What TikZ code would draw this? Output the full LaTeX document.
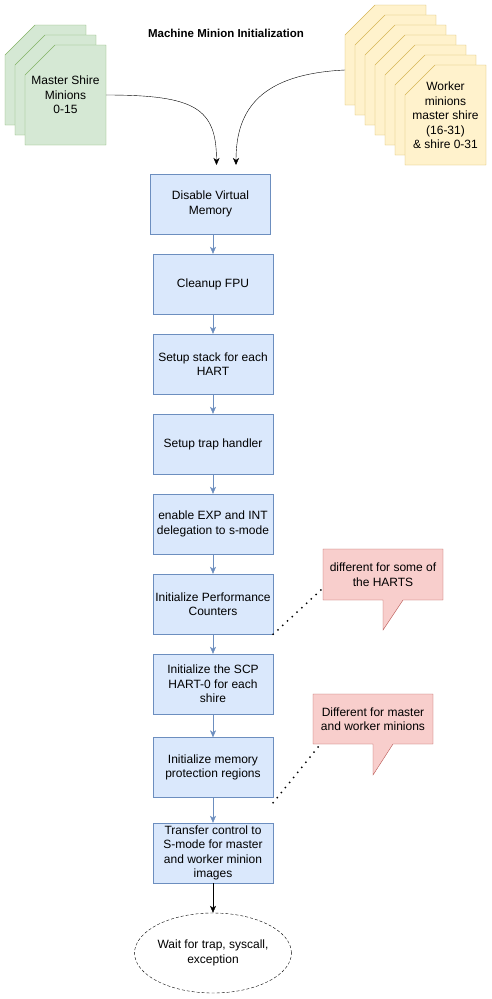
\documentclass[tikz,border=0pt]{standalone}
\usepackage{fontspec}
\setmainfont{Liberation Sans}
\usetikzlibrary{arrows.meta,calc,shapes.geometric}
\definecolor{bfill}{HTML}{DAE8FC}
\definecolor{bdraw}{HTML}{6C8EBF}
\definecolor{gfill}{HTML}{D5E8D4}
\definecolor{gdraw}{HTML}{82B366}
\definecolor{yfill}{HTML}{FFF2CC}
\definecolor{ydraw}{HTML}{D6B656}
\definecolor{rfill}{HTML}{F8CECC}
\definecolor{rdraw}{HTML}{B85450}
\newcommand\drawcard[3]{%
  \path[#3] ({#1+30},{#2}) -- ({#1+81},{#2}) -- ({#1+81},{#2+100}) -- ({#1},{#2+100}) -- ({#1},{#2+30}) -- cycle;}
\begin{document}
\begin{tikzpicture}[x=1pt,y=-1pt,
  txt/.style={font=\fontsize{12}{14.5}\selectfont, align=center, inner sep=0pt},
  stepbox/.style={txt, draw=bdraw, fill=bfill, minimum width=120pt, minimum height=60pt},
  cardtext/.style={txt, minimum width=81pt, minimum height=100pt},
  gcard/.style={draw=gdraw, fill=gfill},
  ycard/.style={draw=ydraw, fill=yfill},
  flow/.style={draw=bdraw, -{Stealth[length=7pt,width=6pt,inset=2pt]}},
  blackflow/.style={draw=black, -{Stealth[length=7pt,width=6pt,inset=2pt]}},
  callout/.style={draw=rdraw, fill=rfill},
  dotline/.style={line width=2pt, line cap=round, dash pattern=on 0pt off 6.5pt},
  endstate/.style={txt, ellipse, draw, dash pattern=on 3pt off 2pt, minimum width=120pt, minimum height=80pt}
]
\useasboundingbox (0,0) rectangle (492,999);

% title
\node[font=\bfseries\fontsize{11.5}{13}\selectfont, inner sep=0pt] (title) at (226,33) {Machine Minion Initialization};

% green cards
\drawcard{5}{25}{gcard}
\drawcard{15}{35}{gcard}
\drawcard{25}{45}{gcard}
\node[cardtext] (g) at (65.5,95) {Master Shire\\Minions\\0-15};

% yellow cards
\foreach \k in {0,...,6}{\drawcard{345+10*\k}{5+10*\k}{ycard}}
\node[cardtext] (y) at (445.5,115.5) {Worker\\minions\\master shire\\(16-31)\\\& shire 0-31};

\coordinate (ystart) at (345,70);
\coordinate (lt) at (216.5,165);
\coordinate (rt) at (236,165);
\draw[blackflow] (g.east) .. controls (195,95) and (216.5,108) .. (lt);
\draw[blackflow] (ystart) .. controls (262,74) and (236,108) .. (rt);

% flow boxes
\node[stepbox] (b1) at (210.5,204) {Disable Virtual\\Memory};
\node[stepbox] (b2) at (213,284) {Cleanup FPU};
\node[stepbox] (b3) at (213,364) {Setup stack for each\\HART};
\node[stepbox] (b4) at (213,444) {Setup trap handler};
\node[stepbox] (b5) at (213,524) {enable EXP and INT\\delegation to s-mode};
\node[stepbox] (b6) at (213,604) {Initialize Performance\\Counters};
\node[stepbox] (b7) at (213,684) {Initialize the SCP\\HART-0 for each\\shire};
\node[stepbox] (b8) at (213,767.5) {Initialize memory\\protection regions};
\node[stepbox] (b9) at (213,853) {Transfer control to\\S-mode for master\\and worker minion\\images};
\node[endstate] (e) at (213,953) {Wait for trap, syscall,\\exception};

\draw[flow] (b1.south -| b2.north) -- (b2.north);
\draw[flow] (b2) -- (b3);
\draw[flow] (b3) -- (b4);
\draw[flow] (b4) -- (b5);
\draw[flow] (b5) -- (b6);
\draw[flow] (b6) -- (b7);
\draw[flow] (b7) -- (b8);
\draw[flow] (b8) -- (b9);
\draw[blackflow] (b9) -- (e);

% callouts
\path[callout] (323,549) -- (443,549) -- (443,600) -- (403,600) -- (383,630) -- (383,600) -- (323,600) -- cycle;
\node[txt] (c1) at (383,574.5) {different for some of\\the HARTS};
\path[callout] (313,694) -- (433,694) -- (433,744) -- (393,744) -- (373,775) -- (373,744) -- (313,744) -- cycle;
\node[txt] (c2) at (373,719) {Different for master\\and worker minions};

\coordinate (c1p) at (322,589);
\coordinate (c2p) at (319,746);
\draw[dotline] (b6.south east) -- (c1p);
\draw[dotline] ([yshift=-5pt]b8.south east) -- (c2p);
\end{tikzpicture}
\end{document}
